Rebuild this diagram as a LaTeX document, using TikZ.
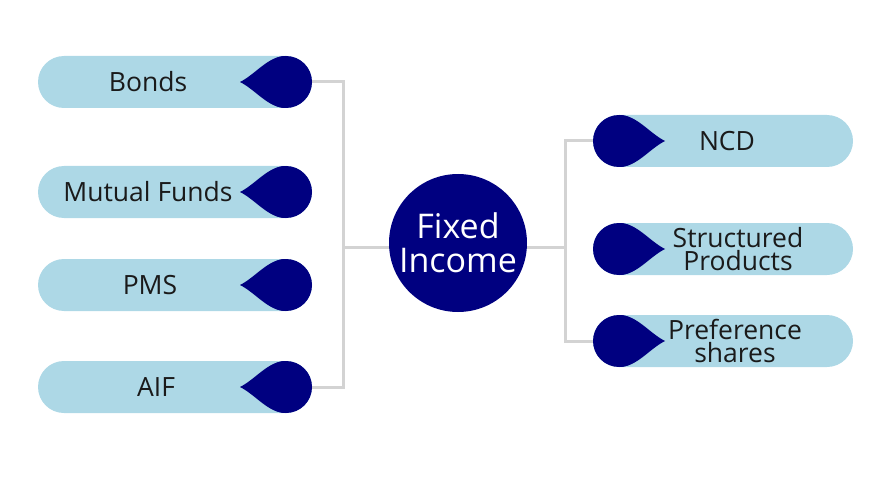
\documentclass[tikz,border=0pt]{standalone}
\usepackage{fontspec}
\setmainfont{Open Sans}
\usetikzlibrary{backgrounds}
\definecolor{pillblue}{HTML}{ADD8E6}
\definecolor{navyc}{HTML}{000080}
\definecolor{linec}{HTML}{D3D3D3}
\definecolor{txtc}{HTML}{1A1A1A}
\newcommand\ldrop[2]{%
  \fill[navyc] (#1,#2) circle[radius=26pt];
  \fill[navyc] (#1-46,#2) .. controls (#1-30,#2-8) and (#1-18,#2-26) .. (#1,#2-26)
    -- (#1,#2+26) .. controls (#1-18,#2+26) and (#1-30,#2+8) .. cycle;}
\newcommand\rdrop[2]{%
  \fill[navyc] (#1,#2) circle[radius=26pt];
  \fill[navyc] (#1+46,#2) .. controls (#1+30,#2-8) and (#1+18,#2-26) .. (#1,#2-26)
    -- (#1,#2+26) .. controls (#1+18,#2+26) and (#1+30,#2+8) .. cycle;}
\begin{document}
\begin{tikzpicture}[x=1pt,y=-1pt,
  pill/.style={fill=pillblue, draw=none, rounded corners=26pt, minimum height=52pt, inner sep=0pt},
  lpill/.style={pill, minimum width=274pt},
  rpill/.style={pill, minimum width=260pt},
  lbl/.style={font=\fontsize{26.5}{23}\selectfont, text=txtc, align=center, inner sep=0pt},
  hub/.style={circle, fill=navyc, minimum size=138pt, inner sep=0pt, text=white,
    font=\fontsize{34}{34}\selectfont, align=center},
  conn/.style={draw=linec, line width=3pt}]
\useasboundingbox (0,0) rectangle (889,500);
% left pills
\node[lpill] (bonds) at (175,82) {};
\node[lpill] (mf) at (175,192) {};
\node[lpill] (pms) at (175,285) {};
\node[lpill] (aif) at (175,387) {};
\ldrop{286}{82}
\ldrop{286}{192}
\ldrop{286}{285}
\ldrop{286}{387}
\node[lbl] (bondsT) at (148,82) {Bonds};
\node[lbl] (mfT) at (148,192) {Mutual Funds};
\node[lbl] (pmsT) at (150,285) {PMS};
\node[lbl] (aifT) at (156,387) {AIF};
% right pills
\node[rpill] (ncd) at (723,141) {};
\node[rpill] (sp) at (723,249) {};
\node[rpill] (pref) at (723,341) {};
\rdrop{619}{141}
\rdrop{619}{249}
\rdrop{619}{341}
\node[lbl] (ncdT) at (727,141) {NCD};
\node[lbl] (spT) at (738,249) {Structured\\Products};
\node[lbl] (prefT) at (735,341) {Preference\\shares};
% hub
\node[hub] (fi) at (458,243) {Fixed\\Income};
\coordinate (jl) at (343,247);
\coordinate (jr) at (565,247);
\begin{scope}[on background layer]
\draw[conn] (bonds.east) -| (jl) |- (aif.east);
\draw[conn] (jl) -- (jl -| fi.center);
\draw[conn] (ncd.west) -| (jr) |- (pref.west);
\draw[conn] (jr) -- (jr -| fi.center);
\end{scope}
\end{tikzpicture}
\end{document}
